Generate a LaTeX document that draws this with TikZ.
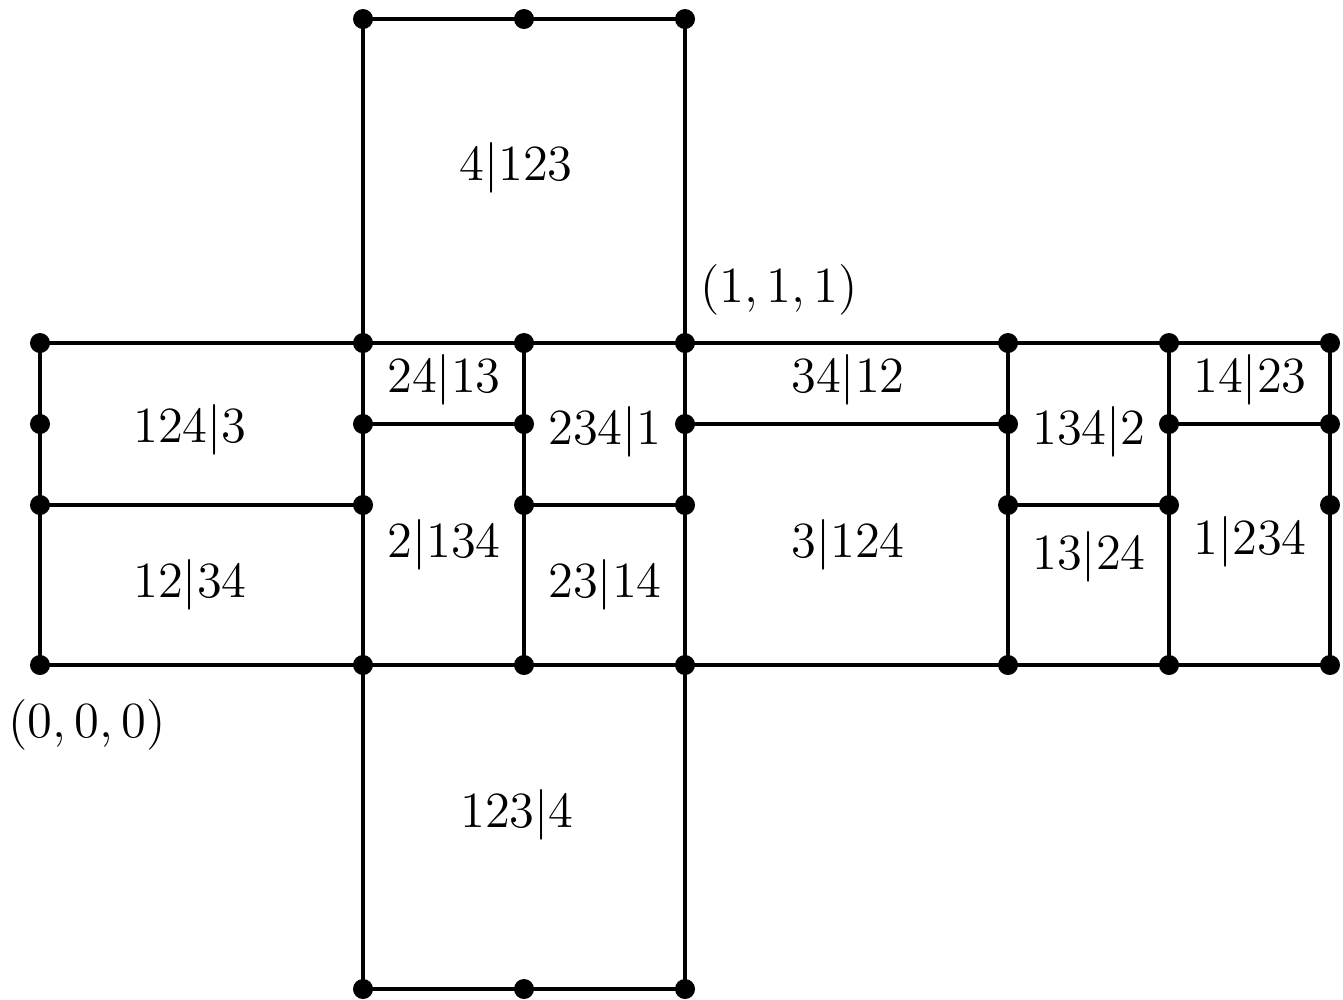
\documentclass[tikz,border=0pt]{standalone}
\begin{document}
\begin{tikzpicture}[x=0.01cm,y=-0.01cm,
  edge/.style={line width=0.9pt},
  dot/.style={circle,fill=black,inner sep=0pt,minimum size=0.2cm},
  lab/.style={inner sep=0pt,font=\fontsize{14.4}{17}\selectfont}]
\useasboundingbox (0,0) rectangle (1343,999);
% grid coordinates: columns A..G, rows 0..5
\foreach \c/\x in {A/40,B/363,C/524,D/685,E/1008,F/1169,G/1330}{
  \foreach \r/\y in {0/19,1/343,2/424,3/505,4/665,5/989}{
    \coordinate (\c\r) at (\x,\y);
  }
}
% top square
\draw[edge] (B1) -- (B0) -- (D0) -- (D1);
% bottom square
\draw[edge] (B4) -- (B5) -- (D5) -- (D4);
% long horizontals
\draw[edge] (A1) -- (G1);
\draw[edge] (A4) -- (G4);
% verticals of the strip
\foreach \c in {A,B,C,D,E,F,G}{ \draw[edge] (\c1) -- (\c4); }
% partial horizontals
\draw[edge] (A3) -- (B3);
\draw[edge] (C3) -- (D3);
\draw[edge] (E3) -- (F3);
\draw[edge] (B2) -- (C2);
\draw[edge] (D2) -- (E2);
\draw[edge] (F2) -- (G2);
% dots
\foreach \p in {B0,C0,D0,B5,C5,D5}{ \node[dot] at (\p) {}; }
\foreach \c in {A,B,C,D,E,F,G}{
  \foreach \r in {1,2,3,4}{ \node[dot] at (\c\r) {}; }
}
% labels
\node[lab] (l1) at (516,168) {$4|123$};
\node[lab] (l2) at (779,290) {$(1,1,1)$};
\node[lab] (l3) at (190,430) {$124|3$};
\node[lab] (l4) at (444,380) {$24|13$};
\node[lab] (l5) at (605,432) {$234|1$};
\node[lab] (l6) at (848,380) {$34|12$};
\node[lab] (l7) at (1089,432) {$134|2$};
\node[lab] (l8) at (1250,380) {$14|23$};
\node[lab] (l9) at (190,585) {$12|34$};
\node[lab] (l10) at (444,545) {$2|134$};
\node[lab] (l11) at (605,585) {$23|14$};
\node[lab] (l12) at (848,545) {$3|124$};
\node[lab] (l13) at (1089,557) {$13|24$};
\node[lab] (l14) at (1250,542) {$1|234$};
\node[lab] (l15) at (87,725) {$(0,0,0)$};
\node[lab] (l16) at (517,815) {$123|4$};
\end{tikzpicture}
\end{document}
